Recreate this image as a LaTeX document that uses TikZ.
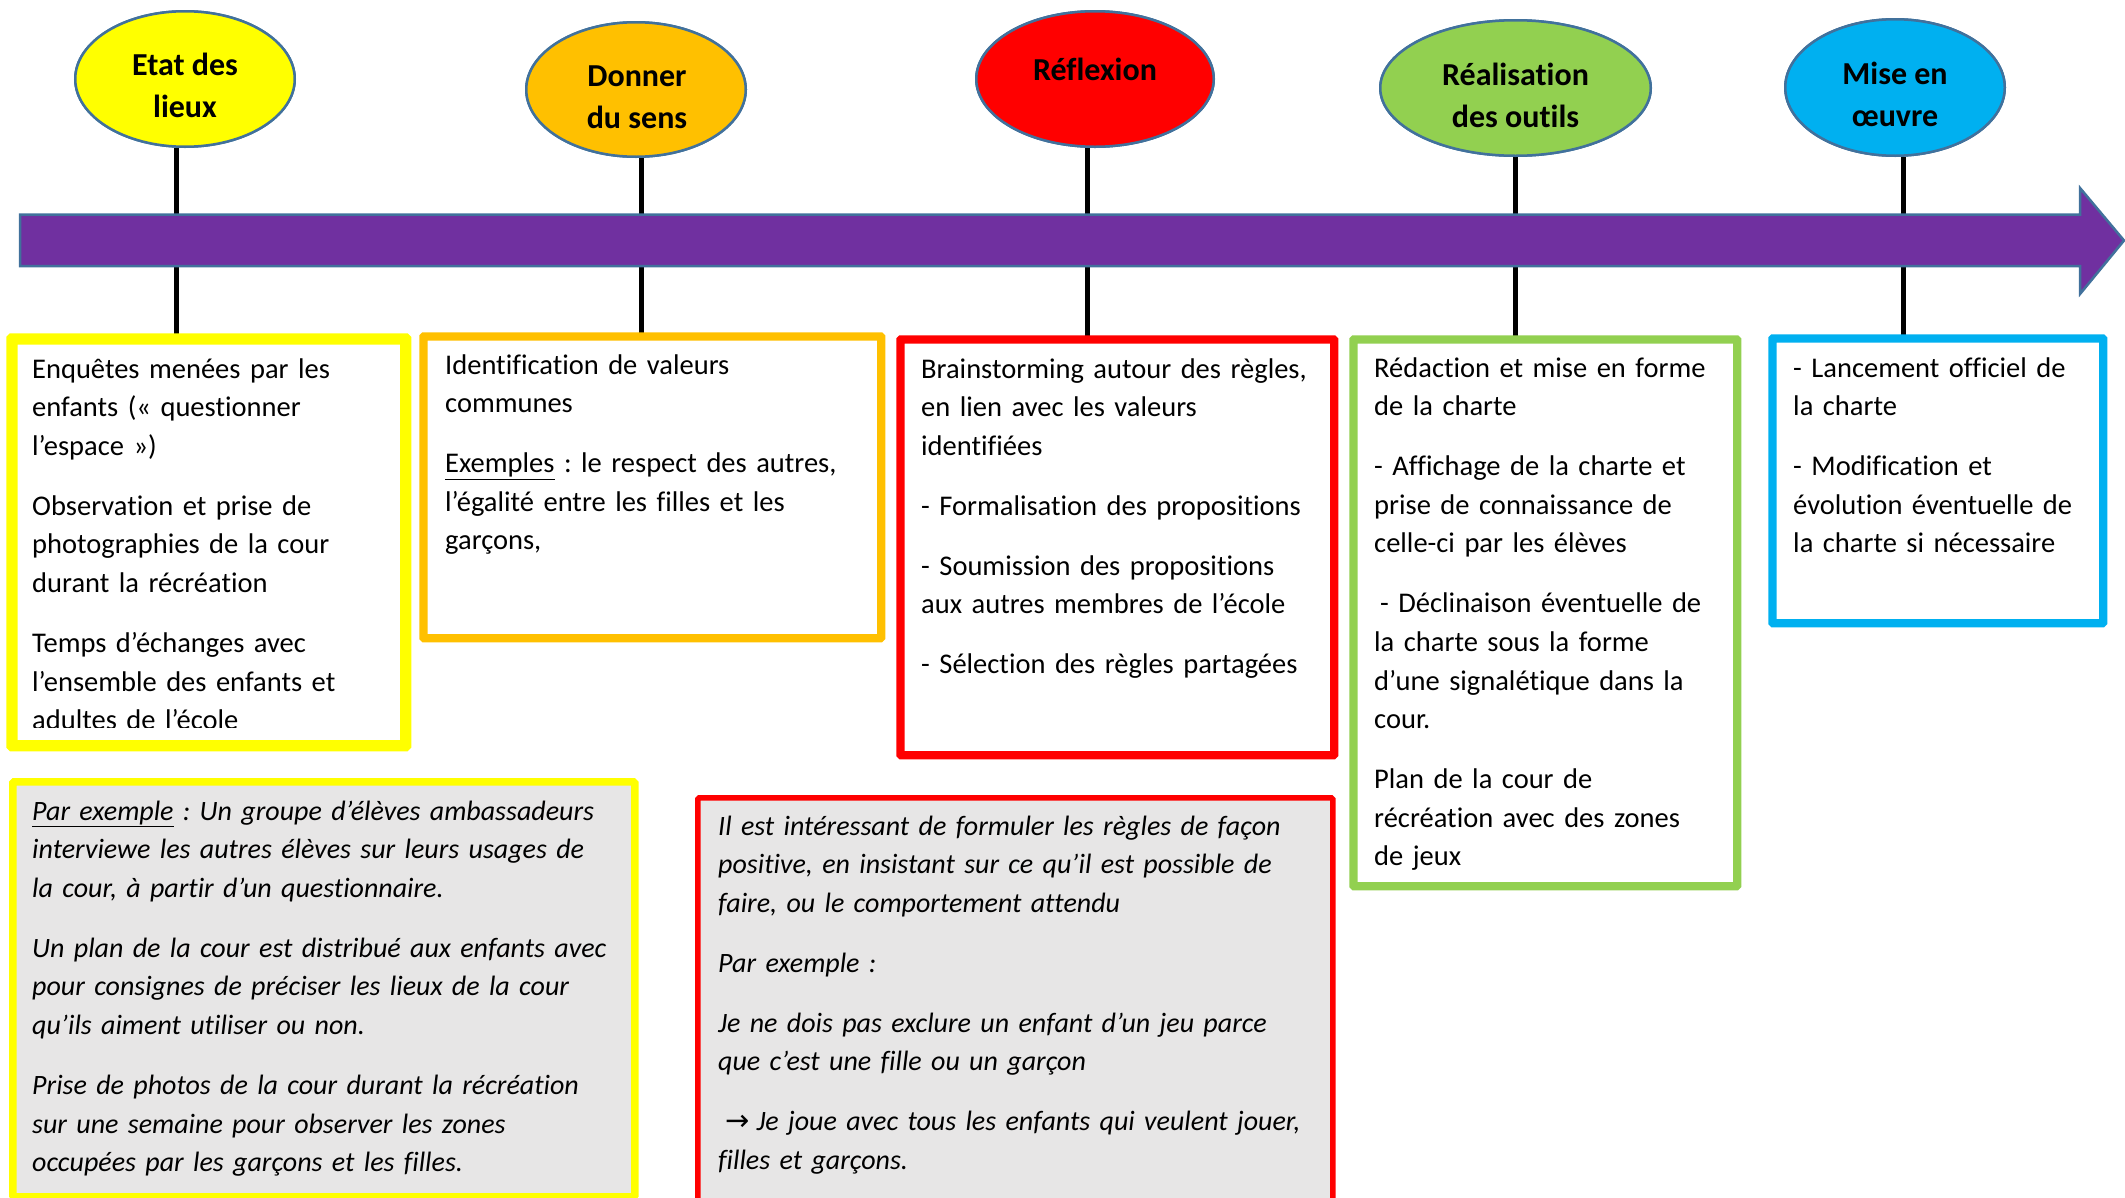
\documentclass[tikz,border=0pt]{standalone}
\usepackage{fontspec}
\setmainfont{Carlito}[Ligatures=CommonOff]
\newfontfamily\arrowfont{DejaVu Sans}
\definecolor{cyel}{HTML}{FFFF00}
\definecolor{cora}{HTML}{FFC000}
\definecolor{cred}{HTML}{FF0000}
\definecolor{cgre}{HTML}{92D050}
\definecolor{cblu}{HTML}{00B0F0}
\definecolor{cpur}{HTML}{7030A0}
\definecolor{cedge}{HTML}{41719C}
\definecolor{cgrey}{HTML}{E7E6E6}
\usetikzlibrary{shapes.geometric}
\tikzset{
  phase/.style={ellipse, draw=cedge, line width=2.5pt, inner sep=0pt},
  title/.style={align=center, font=\bfseries\fontsize{32}{42.2}\selectfont, inner sep=0pt, anchor=north},
  body/.style={align=left, text width=640pt, font=\frenchspacing\fontsize{28.5}{38.6}\selectfont, inner sep=0pt, anchor=north west},
  ibody/.style={body, font=\frenchspacing\itshape\fontsize{28}{38.6}\selectfont},
  frame/.style={rectangle, line width=5.5pt, rounded corners=1.5pt, inner sep=0pt, anchor=north west},
  stem/.style={line width=5pt, black},
}
\begin{document}
\begin{tikzpicture}[x=1pt,y=-1pt]
\useasboundingbox (0,0) rectangle (2125,1197);
\clip (0,0) rectangle (2125,1197);

% ellipses (phases)
\node[phase, fill=cyel, minimum width=219.5pt, minimum height=135.5pt] (e1) at (185,79) {};
\node[phase, fill=cora, minimum width=219.5pt, minimum height=134.5pt] (e2) at (636,89.5) {};
\node[phase, fill=cred, minimum width=237.5pt, minimum height=135.5pt] (e3) at (1095,79) {};
\node[phase, fill=cgre, minimum width=270.5pt, minimum height=135.5pt] (e4) at (1515.5,88) {};
\node[phase, fill=cblu, minimum width=219.5pt, minimum height=136.5pt] (e5) at (1895,87.5) {};

% boxes
\node[frame, draw=cyel, line width=7.5pt, fill=white, minimum width=390pt, minimum height=403pt] (b1) at (10,337) {};
\node[frame, draw=cora, fill=white, minimum width=455pt, minimum height=299pt] (b2) at (422,335) {};
\node[frame, draw=cred, fill=white, minimum width=431pt, minimum height=413pt] (b3) at (899,338) {};
\node[frame, draw=cgre, fill=white, minimum width=381pt, minimum height=544pt] (b4) at (1352,338) {};
\node[frame, draw=cblu, fill=white, minimum width=328pt, minimum height=282pt] (b5) at (1771,337) {};
\node[frame, draw=cyel, line width=7.5pt, fill=cgrey, minimum width=622pt, minimum height=415pt] (g1) at (9,778) {};
\node[frame, draw=cred, fill=cgrey, minimum width=635pt, minimum height=403.5pt] (g2) at (695,795) {};

% stems
\draw[stem] ([xshift=-9pt]e1.south) -- ([xshift=-9pt]e1.south |- b1.north);
\draw[stem] ([xshift=5pt]e2.south) -- ([xshift=5pt]e2.south |- b2.north);
\draw[stem] ([xshift=-8pt]e3.south) -- ([xshift=-8pt]e3.south |- b3.north);
\draw[stem] ([xshift=0pt]e4.south) -- ([xshift=0pt]e4.south |- b4.north);
\draw[stem] ([xshift=8pt]e5.south) -- ([xshift=8pt]e5.south |- b5.north);

% redraw ellipses and box frames over stems
\node[phase, fill=cyel, minimum width=219.5pt, minimum height=135.5pt] at (e1) {};
\node[phase, fill=cora, minimum width=219.5pt, minimum height=134.5pt] at (e2) {};
\node[phase, fill=cred, minimum width=237.5pt, minimum height=135.5pt] at (e3) {};
\node[phase, fill=cgre, minimum width=270.5pt, minimum height=135.5pt] at (e4) {};
\node[phase, fill=cblu, minimum width=219.5pt, minimum height=136.5pt] at (e5) {};
\draw[cyel, line width=7.5pt, rounded corners=1.5pt] (b1.north west) rectangle (b1.south east);
\draw[cora, line width=5.5pt, rounded corners=1.5pt] (b2.north west) rectangle (b2.south east);
\draw[cred, line width=5.5pt, rounded corners=1.5pt] (b3.north west) rectangle (b3.south east);
\draw[cgre, line width=5.5pt, rounded corners=1.5pt] (b4.north west) rectangle (b4.south east);
\draw[cblu, line width=5.5pt, rounded corners=1.5pt] (b5.north west) rectangle (b5.south east);

% timeline arrow
\draw[fill=cpur, draw=cedge, line width=2.5pt, line join=miter]
  (20,214.5) -- (2080,214.5) -- (2080,188) -- (2124,240.5) -- (2080,294) -- (2080,266) -- (20,266) -- cycle;

% titles
\node[title] (t1) at (185,45.5) {\strut Etat des\\lieux};
\node[title] (t2) at (637,56.5) {\strut Donner\\du sens};
\node[title] (t3) at (1095,50.5) {\strut Réflexion};
\node[title] (t4) at (1515.5,55.5) {\strut Réalisation\\des outils};
\node[title] (t5) at (1895,54.5) {\strut Mise en\\œuvre};

% box texts
\begin{scope}
\clip (0,0) rectangle (420,727);
\node[body] (x1) at (32,351) {\strut Enquêtes menées par les\\
enfants (« questionner\\
l’espace »)\\[21.3pt]
Observation et prise de\\
photographies de la cour\\
durant la récréation\\[21.3pt]
Temps d’échanges avec\\
l’ensemble des enfants et\\
adultes de l’école};
\end{scope}

\node[body] (x2) at (445,347) {\strut Identification de valeurs\\
communes\\[21.3pt]
\underline{Exemples} : le respect des autres,\\
l’égalité entre les filles et les\\
garçons,};

\node[body] (x3) at (921,351) {\strut Brainstorming autour des règles,\\
en lien avec les valeurs\\
identifiées\\[21.3pt]
- Formalisation des propositions\\[21.3pt]
- Soumission des propositions\\
aux autres membres de l’école\\[21.3pt]
- Sélection des règles partagées};

\node[body] (x4) at (1374,350) {\strut Rédaction et mise en forme\\
de la charte\\[21.3pt]
- Affichage de la charte et\\
prise de connaissance de\\
celle-ci par les élèves\\[21.3pt]
\hspace*{6pt}- Déclinaison éventuelle de\\
la charte sous la forme\\
d’une signalétique dans la\\
cour.\\[21.3pt]
Plan de la cour de\\
récréation avec des zones\\
de jeux};

\node[body] (x5) at (1793,350) {\strut - Lancement officiel de\\
la charte\\[21.3pt]
- Modification et\\
évolution éventuelle de\\
la charte si nécessaire};

\node[ibody] (x6) at (32,793) {\strut\underline{Par exemple} : Un groupe d’élèves ambassadeurs\\
interviewe les autres élèves sur leurs usages de\\
la cour, à partir d’un questionnaire.\\[21.3pt]
Un plan de la cour est distribué aux enfants avec\\
pour consignes de préciser les lieux de la cour\\
qu’ils aiment utiliser ou non.\\[21.3pt]
Prise de photos de la cour durant la récréation\\
sur une semaine pour observer les zones\\
occupées par les garçons et les filles.};

\node[ibody] (x7) at (718,808) {\strut Il est intéressant de formuler les règles de façon\\
positive, en insistant sur ce qu’il est possible de\\
faire, ou le comportement attendu\\[21.3pt]
Par exemple :\\[21.3pt]
Je ne dois pas exclure un enfant d’un jeu parce\\
que c’est une fille ou un garçon\\[21.3pt]
\hspace*{7pt}{\arrowfont\upshape\fontsize{29}{38.6}\selectfont →}\hspace{7pt}Je joue avec tous les enfants qui veulent jouer,\\
filles et garçons.};
\end{tikzpicture}
\end{document}
